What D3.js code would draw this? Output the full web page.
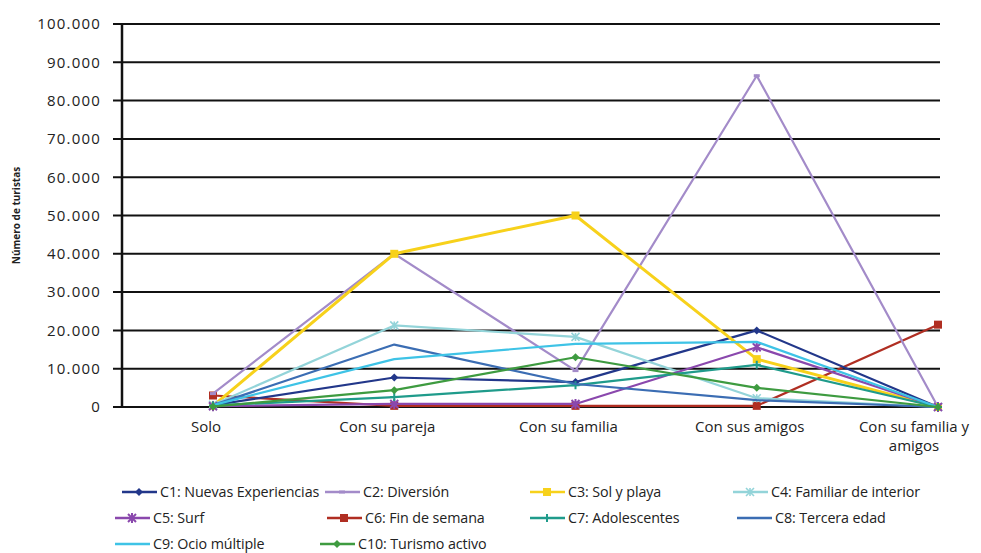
<!DOCTYPE html>
<html>
<head>
<meta charset="utf-8">
<script src="https://cdn.jsdelivr.net/npm/d3@7"></script>
<style>
html,body{margin:0;padding:0;background:#fff;}
svg{display:block;font-family:"Open Sans","DejaVu Sans",sans-serif;}
</style>
</head>
<body>
<svg id="chart" width="981" height="553"></svg>
<script>
const categories = ["Solo", "Con su pareja", "Con su familia", "Con sus amigos", "Con su familia y amigos"];
const seriesNames = ["C1: Nuevas Experiencias", "C2: Diversión", "C3: Sol y playa", "C4: Familiar de interior",
  "C5: Surf", "C6: Fin de semana", "C7: Adolescentes", "C8: Tercera edad", "C9: Ocio múltiple", "C10: Turismo activo"];
const c1 = [500, 7700, 6500, 20000, 0];
const c2 = [3500, 40000, 9500, 86500, 0];
const c3 = [300, 40000, 50000, 12500, 0];
const c4 = [600, 21300, 18300, 2300, 0];
const c5 = [200, 800, 800, 15600, 0];
const c6 = [3000, 300, 300, 300, 21500];
const c7 = [400, 2600, 5700, 11000, 0];
const c8 = [500, 16300, 6000, 1800, 0];
const c9 = [500, 12500, 16500, 17000, 0];
const c10 = [100, 4400, 13000, 5000, 0];
const seriesValues = [c1, c2, c3, c4, c5, c6, c7, c8, c9, c10];
const yTicks = [0, 10000, 20000, 30000, 40000, 50000, 60000, 70000, 80000, 90000, 100000];

const colors = ["#22378a", "#a38bc9", "#f7d11b", "#93d4d9", "#8a48ad", "#b02e22", "#1f9b8b", "#3b6db3", "#3ec3e6", "#3e9b40"];
const markers = ["diamond", "dash", "square", "cross", "star", "square", "plus", "none", "none", "diamond"];

const svg = d3.select("#chart");
const x = d3.scalePoint().domain(categories).range([213, 938]);
const y = d3.scaleLinear().domain([0, 100000]).range([407, 24]);
const fmt = v => d3.format(",")(v).replace(/,/g, ".");

// tick labels
const ag = svg.append("g").attr("transform", "translate(113,0)")
  .call(d3.axisLeft(y).tickValues(yTicks).tickSize(0).tickPadding(12).tickFormat(fmt));
ag.select(".domain").remove();
ag.selectAll(".tick text").attr("font-size", 15).attr("fill", "#222")
  .attr("font-family", "'Open Sans',sans-serif").attr("letter-spacing", "1.2px");

// gridlines
svg.append("g").selectAll("line").data(yTicks).join("line")
  .attr("x1", 113).attr("x2", 940).attr("y1", d => y(d)).attr("y2", d => y(d))
  .attr("stroke", "#111").attr("stroke-width", 2);
svg.append("line").attr("x1", 122).attr("x2", 122).attr("y1", y(100000)).attr("y2", y(0))
  .attr("stroke", "#111").attr("stroke-width", 2.5);

// y title
svg.append("text").attr("transform", "translate(20," + ((y(0) + y(100000)) / 2) + ") rotate(-90)")
  .attr("text-anchor", "middle").attr("font-size", 10).attr("font-weight", "bold").attr("fill", "#222")
  .text("Número de turistas");

// category labels
const catG = svg.append("g");
categories.forEach((c, i) => {
  const cx = Math.min(x(c) - 7, 914);
  const lines = c === "Con su familia y amigos" ? ["Con su familia y", "amigos"] : [c];
  lines.forEach((ln, j) => {
    catG.append("text").attr("x", cx).attr("y", 432 + j * 19).attr("text-anchor", "middle")
      .attr("font-size", 15).attr("fill", "#222").text(ln);
  });
});

function drawMarker(g, type, px, py, color) {
  if (type === "none") return;
  const s = 4;
  if (type === "diamond") g.append("path").attr("d", `M${px},${py - s}L${px + s},${py}L${px},${py + s}L${px - s},${py}Z`).attr("fill", color);
  else if (type === "square") g.append("rect").attr("x", px - s).attr("y", py - s).attr("width", 2 * s).attr("height", 2 * s).attr("fill", color);
  else if (type === "dash") g.append("path").attr("d", `M${px - 3},${py}L${px + 3},${py}`).attr("stroke", color).attr("stroke-width", 3);
  else if (type === "cross") g.append("path").attr("d", `M${px - s},${py - s}L${px + s},${py + s}M${px - s},${py + s}L${px + s},${py - s}M${px},${py - s}L${px},${py + s}`).attr("stroke", color).attr("stroke-width", 1.6).attr("fill", "none");
  else if (type === "star") g.append("path").attr("d", `M${px - s},${py - s}L${px + s},${py + s}M${px - s},${py + s}L${px + s},${py - s}M${px},${py - s - 1}L${px},${py + s + 1}`).attr("stroke", color).attr("stroke-width", 2).attr("fill", "none");
  else if (type === "plus") g.append("path").attr("d", `M${px - s},${py}L${px + s},${py}M${px},${py - s}L${px},${py + s}`).attr("stroke", color).attr("stroke-width", 2).attr("fill", "none");
}

const line = d3.line().x((d, i) => x(categories[i])).y(d => y(d));
const order = [5, 0, 1, 2, 3, 4, 6, 7, 8, 9];
const linesG = svg.append("g");
order.forEach(k => {
  const g = linesG.append("g");
  g.append("path").datum(seriesValues[k]).attr("d", line).attr("fill", "none")
    .attr("stroke", colors[k]).attr("stroke-width", k === 2 ? 3 : 2.2).attr("stroke-linejoin", "round");
  seriesValues[k].forEach((v, i) => drawMarker(g, markers[k], x(categories[i]), y(v), colors[k]));
});

// legend
const legX = [[122, 325, 530, 733], [115, 327, 530, 737], [115, 320]];
const legY = [492, 518, 544];
const legG = svg.append("g");
seriesNames.forEach((name, k) => {
  const row = Math.floor(k / 4), col = k % 4;
  const lx = legX[row][col], ly = legY[row];
  const g = legG.append("g");
  g.append("line").attr("x1", lx).attr("x2", lx + 35).attr("y1", ly).attr("y2", ly)
    .attr("stroke", colors[k]).attr("stroke-width", 2.5);
  drawMarker(g, markers[k], lx + 17, ly, colors[k]);
  g.append("text").attr("x", lx + 38).attr("y", ly + 5).attr("font-size", 14.3).attr("fill", "#222")
    .attr("letter-spacing", "-0.1px").text(name);
});
</script>
</body>
</html>
